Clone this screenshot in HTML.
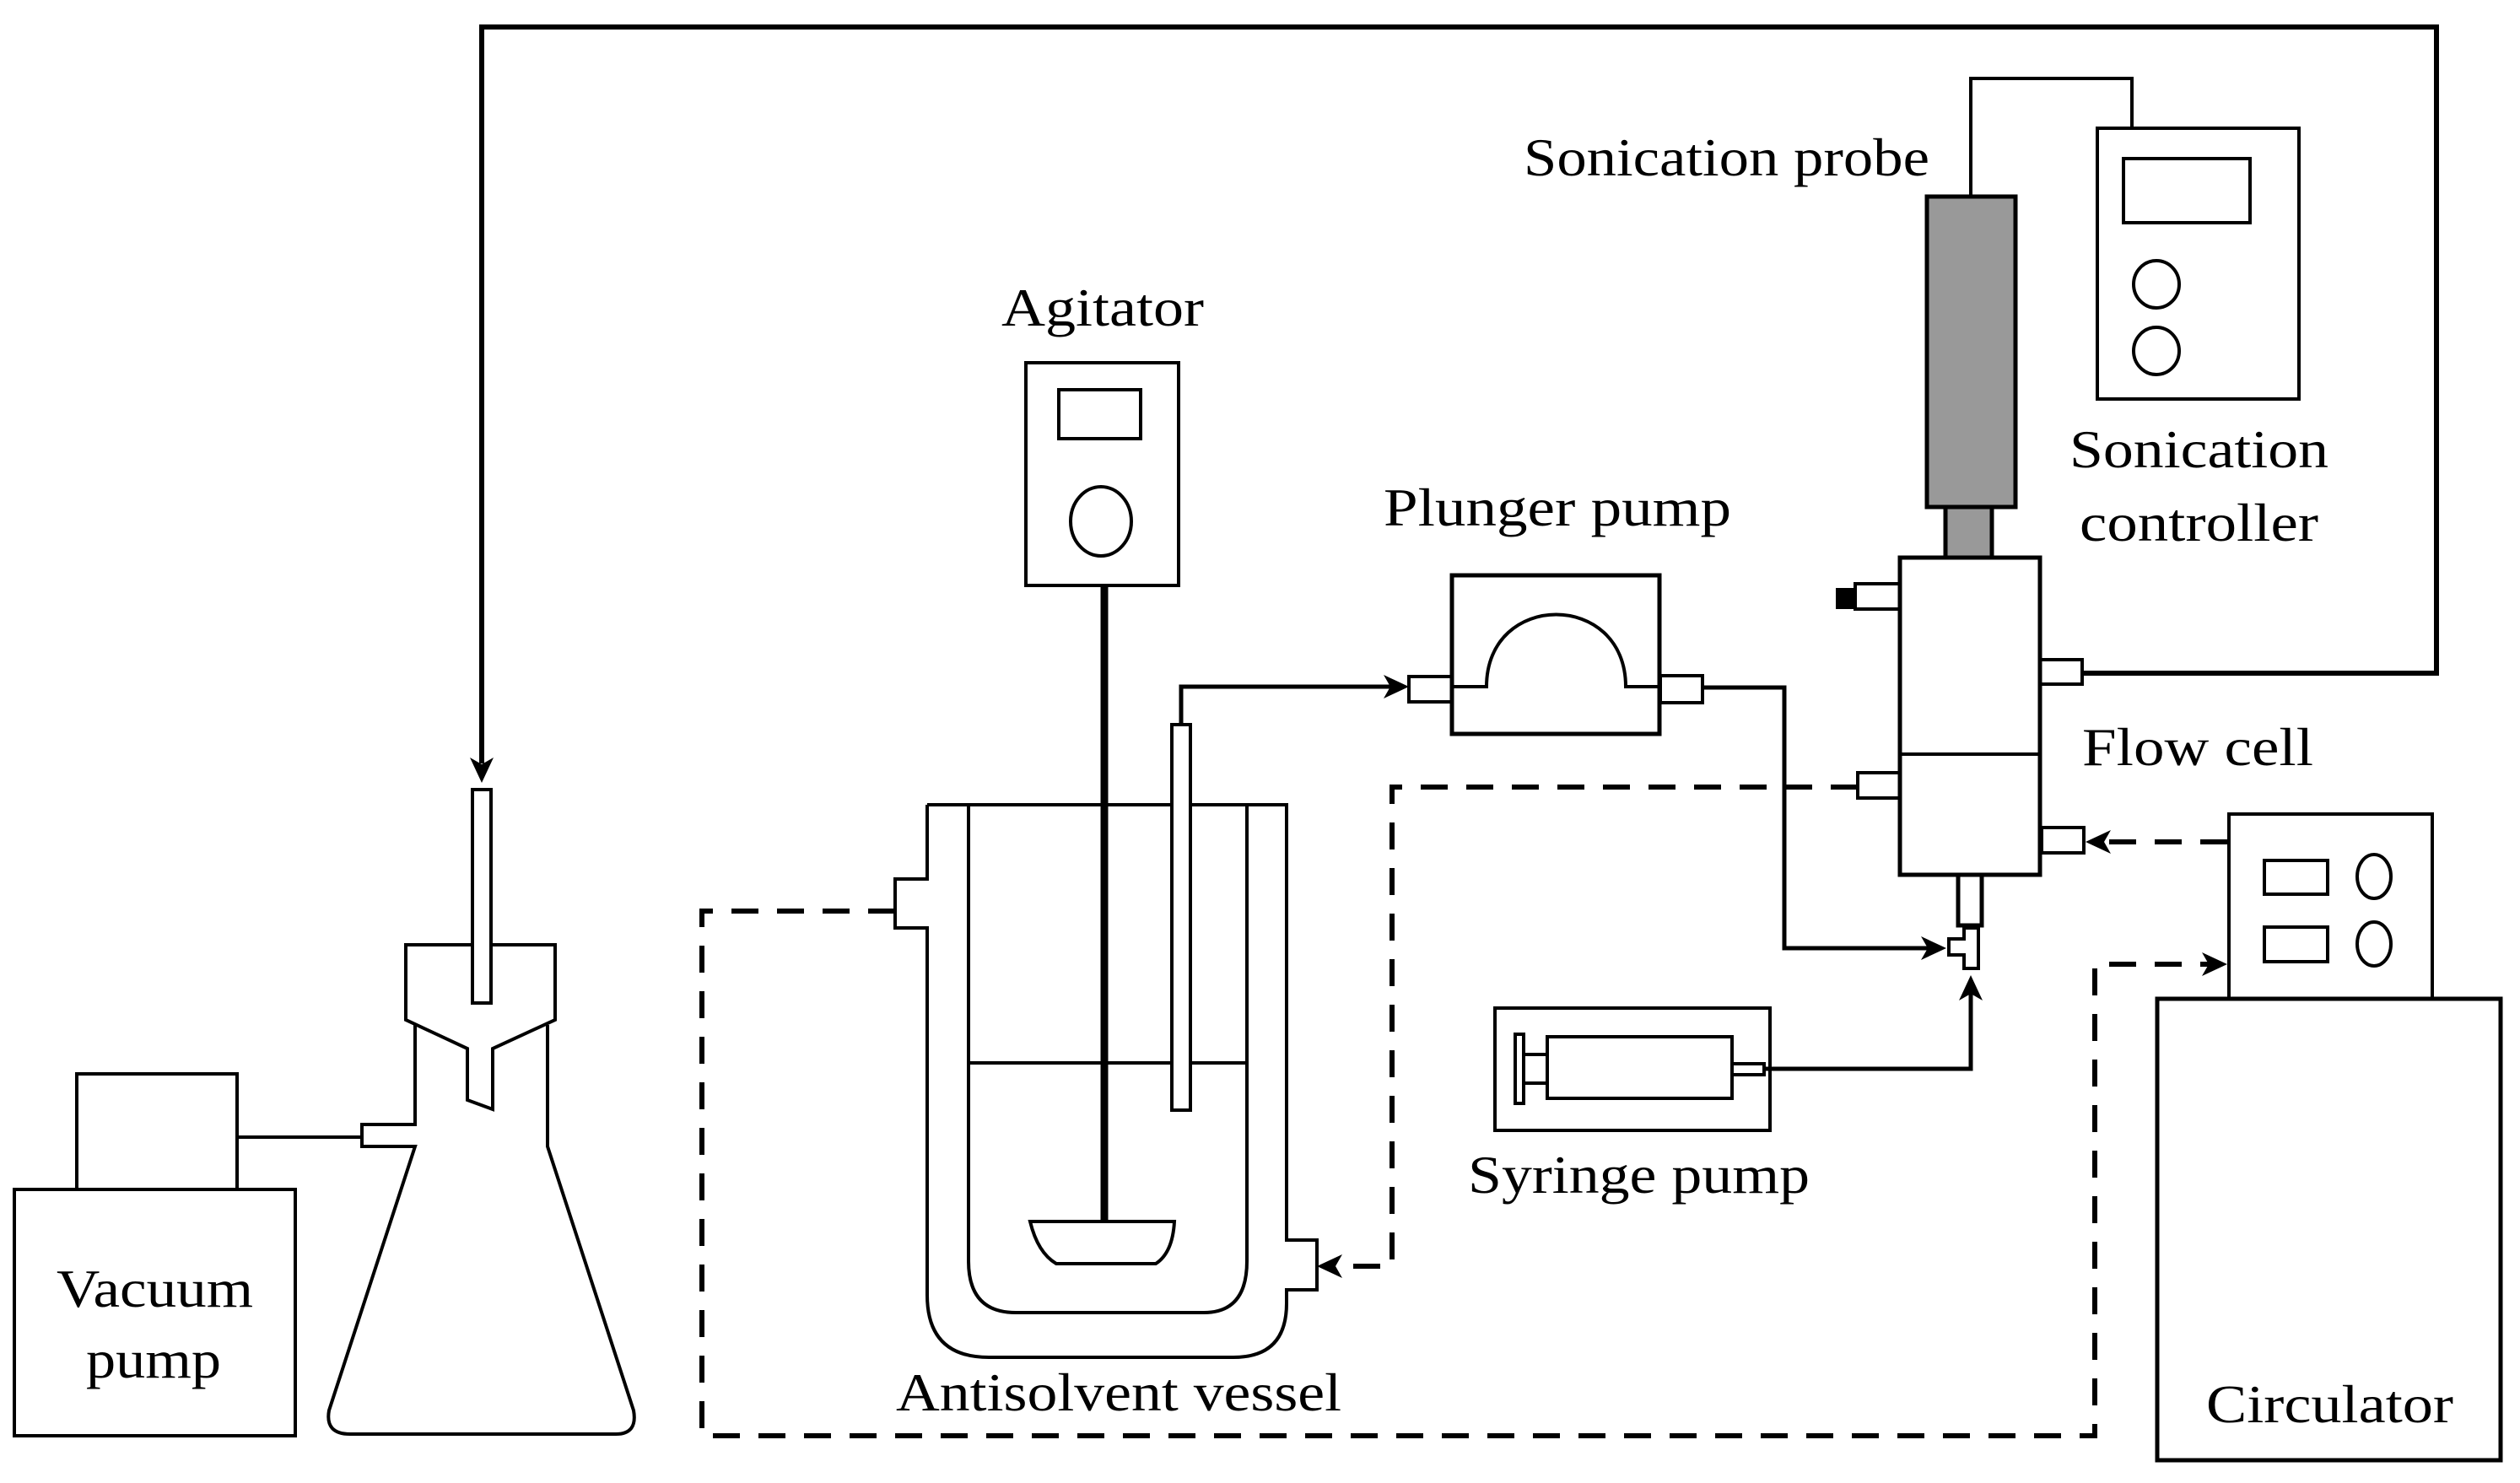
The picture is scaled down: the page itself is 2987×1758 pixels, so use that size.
<!DOCTYPE html>
<html><head><meta charset="utf-8"><style>
html,body{margin:0;padding:0;background:#fff;}
svg{display:block;}
text{font-family:"Liberation Serif",serif;font-size:64px;fill:#000;}
</style></head><body>
<svg width="2987" height="1758" viewBox="0 0 2987 1758" xmlns="http://www.w3.org/2000/svg">
<rect width="2987" height="1758" fill="#fff"/>
<g fill="none" stroke="#000" stroke-width="4">
<!-- top feedback line -->
<path d="M571,905 V32 H2888 V798 H2468" stroke-width="6"/>
<polygon points="571,928 557,898 571,906 585,898" fill="#000" stroke="none"/>

<!-- vacuum pump -->
<rect x="91" y="1273" width="190" height="137"/>
<rect x="17" y="1410" width="333" height="292"/>
<path d="M281,1348 H429"/>
<!-- flask -->
<path d="M492,1215 V1333 H429 V1359 H492 L390,1672 Q385,1700 415,1700 H730 Q756,1700 751,1672 L649,1359 V1215"/>
<path d="M481,1120 H658 V1209 L584,1243 V1315 L554,1304 V1243 L481,1209 Z" fill="#fff"/>
<rect x="560" y="936" width="22" height="253" fill="#fff"/>

<!-- agitator -->
<rect x="1216" y="430" width="181" height="264"/>
<rect x="1255" y="462" width="97" height="58"/>
<ellipse cx="1305" cy="618" rx="36" ry="41"/>
<path d="M1309,694 V1448" stroke-width="9"/>
<path d="M1221,1448 H1392 Q1390,1485 1370,1498 H1252 Q1230,1485 1221,1448 Z" fill="#fff"/>

<!-- vessel -->
<path d="M1099,954 V1042 H1061 V1100 H1099 V1535 Q1099,1609 1172,1609 H1462 Q1525,1609 1525,1545 V1529 H1561 V1470 H1525 V954 H1099"/>
<path d="M1148,954 V1495 Q1148,1556 1204,1556 H1427 Q1478,1556 1478,1495 V954"/>
<path d="M1148,1260 H1478"/>
<rect x="1389" y="859" width="22" height="457" fill="#fff"/>
<path d="M1400,859 V814 H1655" stroke-width="5"/>
<polygon points="1670,814 1640,800 1648,814 1640,828" fill="#000" stroke="none"/>

<!-- plunger pump -->
<rect x="1670" y="802" width="51" height="30"/>
<rect x="1968" y="801" width="50" height="32"/>
<rect x="1721" y="682" width="246" height="188" stroke-width="5"/>
<path d="M1721,814 H1762 C1762,700 1927,700 1927,814 H1967"/>
<path d="M2018,815 H2115 V1124 H2290" stroke-width="5"/>
<polygon points="2307,1124 2277,1110 2285,1124 2277,1138" fill="#000" stroke="none"/>

<!-- syringe pump -->
<rect x="1772" y="1195" width="326" height="145"/>
<rect x="1834" y="1229" width="219" height="73"/>
<rect x="1796" y="1226" width="10" height="82"/>
<path d="M1806,1250 H1834 M1806,1284 H1834"/>
<rect x="2053" y="1261" width="38" height="13"/>
<path d="M2091,1267 H2336 V1175" stroke-width="5"/>
<polygon points="2336,1156 2322,1186 2336,1178 2350,1186" fill="#000" stroke="none"/>

<!-- sonication probe & controller -->
<path d="M2336,233 V93 H2527 V152"/>
<rect x="2284" y="233" width="105" height="368" fill="#999" stroke-width="5"/>
<rect x="2306" y="601" width="55" height="60" fill="#999" stroke-width="5"/>
<rect x="2486" y="152" width="239" height="321"/>
<rect x="2517" y="188" width="150" height="76"/>
<ellipse cx="2556" cy="337" rx="27" ry="28"/>
<ellipse cx="2556" cy="416" rx="27" ry="28"/>

<!-- flow cell -->
<rect x="2252" y="661" width="166" height="376" stroke-width="5"/>
<path d="M2252,894 H2418"/>
<rect x="2199" y="692" width="53" height="30"/>
<rect x="2178" y="699" width="21" height="21" fill="#000"/>
<rect x="2418" y="782" width="50" height="29"/>
<rect x="2202" y="916" width="50" height="30"/>
<rect x="2420" y="981" width="50" height="30"/>
<rect x="2321" y="1037" width="28" height="60" stroke-width="5"/>
<path d="M2328,1100 H2345 V1148 H2328 V1132 H2310 V1113 H2328 Z"/>

<!-- circulator -->
<rect x="2642" y="965" width="241" height="219"/>
<rect x="2557" y="1184" width="407" height="547" stroke-width="5"/>
<rect x="2684" y="1020" width="75" height="40"/>
<rect x="2684" y="1099" width="75" height="41"/>
<ellipse cx="2814" cy="1039" rx="20" ry="26"/>
<ellipse cx="2814" cy="1119" rx="20" ry="26"/>

<!-- dashed lines -->
<g stroke-width="6" stroke-dasharray="32,22">
<path d="M2202,933 H1650 V1501 H1580"/>
<path d="M1061,1080 H832 V1702 H2483 V1143 H2620"/>
<path d="M2640,998 H2492"/>
</g>
<polygon points="1561,1501 1591,1487 1583,1501 1591,1515" fill="#000" stroke="none"/>
<polygon points="2640,1143 2610,1129 2618,1143 2610,1157" fill="#000" stroke="none"/>
<polygon points="2472,998 2502,984 2494,998 2502,1012" fill="#000" stroke="none"/>
</g>

<text x="1806" y="208" textLength="481" lengthAdjust="spacingAndGlyphs">Sonication probe</text>
<text x="1187" y="386" textLength="240" lengthAdjust="spacingAndGlyphs">Agitator</text>
<text x="1640" y="623" textLength="412" lengthAdjust="spacingAndGlyphs">Plunger pump</text>
<text x="2453" y="554" textLength="307" lengthAdjust="spacingAndGlyphs">Sonication</text>
<text x="2465" y="641" textLength="283" lengthAdjust="spacingAndGlyphs">controller</text>
<text x="2468" y="907" textLength="274" lengthAdjust="spacingAndGlyphs">Flow cell</text>
<text x="1740" y="1414" textLength="405" lengthAdjust="spacingAndGlyphs">Syringe pump</text>
<text x="1062" y="1672" textLength="528" lengthAdjust="spacingAndGlyphs">Antisolvent vessel</text>
<text x="2615" y="1686" textLength="293" lengthAdjust="spacingAndGlyphs">Circulator</text>
<text x="67" y="1549" textLength="233" lengthAdjust="spacingAndGlyphs">Vacuum</text>
<text x="102" y="1633" textLength="160" lengthAdjust="spacingAndGlyphs">pump</text>
</svg>
</body></html>
